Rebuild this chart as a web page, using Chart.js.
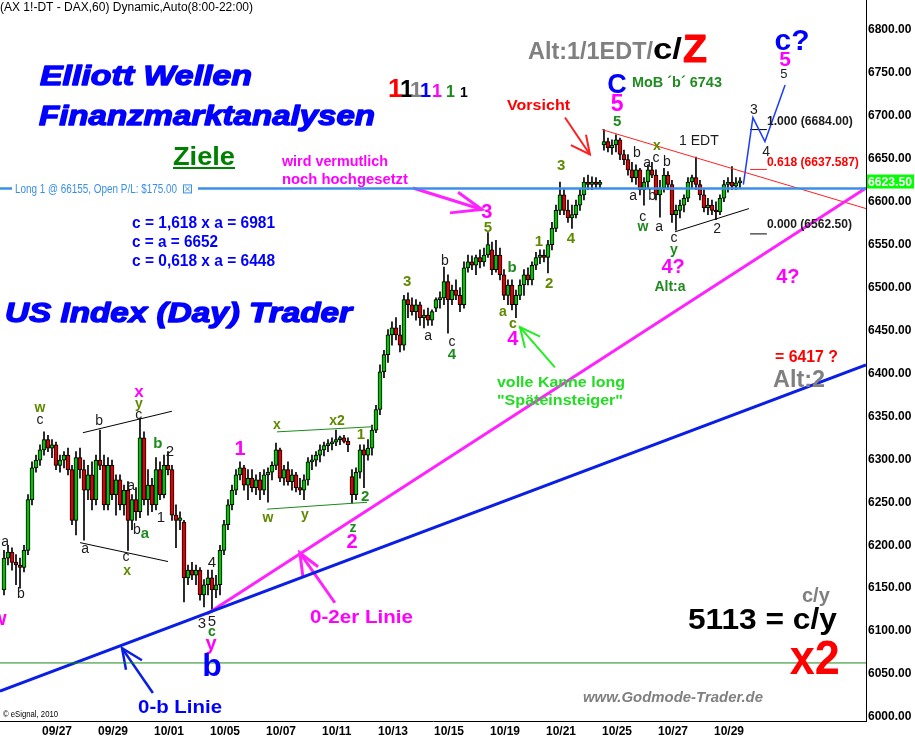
<!DOCTYPE html>
<html>
<head>
<meta charset="utf-8">
<script src="https://cdn.jsdelivr.net/npm/chart.js@4.4.0/dist/chart.umd.min.js"></script>
<style>
  html, body { margin: 0; padding: 0; background: #fff; }
</style>
</head>
<body>
<canvas id="kurs" width="915" height="740"></canvas>
<script>
// Handelstage im Bild (Stundenkerzen 8:00-22:00, hier als 2-Stunden-Kerzen)
const tage = ["09/23", "09/24", "09/27", "09/28", "09/29", "09/30", "10/01", "10/04", "10/05", "10/06",
  "10/07", "10/08", "10/11", "10/12", "10/13", "10/14", "10/15", "10/18", "10/19", "10/20",
  "10/21", "10/22", "10/25", "10/26", "10/27", "10/28", "10/29"];
const achsenTage = [2, 4, 6, 8, 10, 12, 14, 16, 18, 20, 22, 24, 26];
const preisTicks = [6000, 6050, 6100, 6150, 6200, 6250, 6300, 6350, 6400, 6450, 6500, 6550, 6600, 6650, 6700, 6750, 6800];
const ersterSlot = 4; // erste sichtbare Kerze am 09/23 nachmittags

const opens = [
  6148, 6185, 6192,
  6180, 6177, 6174, 6194, 6253, 6290, 6299,
  6311, 6323, 6313, 6317, 6293, 6299, 6305,
  6288, 6229, 6302, 6288, 6264, 6282, 6253,
  6299, 6293, 6247, 6293, 6259, 6276, 6247,
  6264, 6229, 6253, 6239, 6325, 6253, 6270,
  6247, 6288, 6259, 6293, 6288, 6235, 6229,
  6227, 6162, 6171, 6165, 6171, 6142, 6154,
  6162, 6148, 6154, 6194, 6224, 6247, 6264,
  6282, 6290, 6270, 6278, 6267, 6276, 6264,
  6282, 6285, 6293, 6311, 6278, 6288, 6274,
  6282, 6267, 6264, 6276, 6297, 6299, 6305,
  6311, 6316, 6318, 6320, 6323, 6325, 6321,
  6280, 6259, 6285, 6311, 6305, 6313, 6334,
  6358, 6402, 6422, 6445, 6453, 6445, 6433,
  6486, 6480, 6472, 6480, 6465, 6468, 6462,
  6476, 6486, 6488, 6507, 6486, 6497, 6491,
  6480, 6523, 6530, 6526, 6535, 6530, 6538,
  6544, 6521, 6538, 6515, 6491, 6503, 6480,
  6491, 6503, 6515, 6509, 6526, 6535, 6538,
  6535, 6550, 6569, 6590, 6608, 6590, 6581,
  6585, 6596, 6608, 6623, 6620, 6623, 6620,
  6666, 6670, 6663, 6666, 6672, 6655, 6649,
  6637, 6628, 6637, 6614, 6623, 6637, 6631,
  6608, 6616, 6631, 6620, 6585, 6590, 6596,
  6604, 6623, 6628, 6620, 6608, 6593, 6596,
  6590, 6588, 6604, 6620, 6623, 6618, 6622
];
const highs = [
  6194, 6200, 6197,
  6189, 6185, 6200, 6259, 6297, 6305, 6317,
  6332, 6328, 6323, 6320, 6305, 6309, 6313,
  6293, 6309, 6313, 6299, 6293, 6297, 6305,
  6334, 6305, 6302, 6299, 6282, 6282, 6270,
  6274, 6259, 6267, 6348, 6332, 6288, 6278,
  6302, 6297, 6305, 6309, 6293, 6247, 6239,
  6229, 6177, 6180, 6177, 6174, 6160, 6171,
  6171, 6165, 6200, 6229, 6253, 6270, 6288,
  6297, 6293, 6288, 6288, 6282, 6285, 6288,
  6290, 6297, 6319, 6313, 6293, 6297, 6288,
  6285, 6278, 6282, 6302, 6305, 6309, 6317,
  6320, 6323, 6325, 6334, 6327, 6328, 6325,
  6288, 6290, 6317, 6317, 6323, 6340, 6363,
  6410, 6427, 6451, 6460, 6465, 6456, 6491,
  6494, 6488, 6486, 6483, 6474, 6476, 6474,
  6488, 6495, 6524, 6515, 6503, 6509, 6500,
  6530, 6538, 6537, 6538, 6544, 6546, 6564,
  6553, 6555, 6546, 6521, 6509, 6509, 6497,
  6509, 6521, 6523, 6530, 6541, 6544, 6544,
  6555, 6576, 6596, 6623, 6614, 6602, 6596,
  6602, 6614, 6628, 6631, 6629, 6628, 6625,
  6684, 6674, 6672, 6678, 6674, 6660, 6655,
  6646, 6643, 6639, 6628, 6643, 6646, 6637,
  6625, 6639, 6635, 6625, 6596, 6602, 6608,
  6628, 6631, 6652, 6625, 6614, 6604, 6602,
  6600, 6608, 6625, 6628, 6641, 6628, 6628
];
const lows = [
  6142, 6177, 6171,
  6154, 6150, 6169, 6189, 6247, 6285, 6293,
  6305, 6309, 6302, 6288, 6285, 6290, 6282,
  6224, 6212, 6278, 6206, 6253, 6241, 6247,
  6288, 6241, 6241, 6253, 6235, 6241, 6235,
  6194, 6218, 6229, 6232, 6247, 6235, 6239,
  6241, 6253, 6255, 6282, 6229, 6197, 6218,
  6134, 6154, 6160, 6154, 6136, 6128, 6142,
  6122, 6139, 6142, 6189, 6218, 6241, 6259,
  6276, 6264, 6253, 6262, 6259, 6253, 6259,
  6250, 6276, 6288, 6274, 6270, 6270, 6264,
  6262, 6259, 6253, 6270, 6288, 6292, 6297,
  6304, 6309, 6311, 6316, 6317, 6319, 6309,
  6249, 6253, 6278, 6267, 6299, 6305, 6331,
  6352, 6395, 6413, 6433, 6439, 6425, 6427,
  6465, 6468, 6462, 6456, 6453, 6456, 6456,
  6472, 6476, 6480, 6447, 6480, 6486, 6472,
  6476, 6518, 6521, 6515, 6523, 6525, 6535,
  6515, 6518, 6509, 6486, 6480, 6474, 6465,
  6486, 6491, 6503, 6503, 6521, 6528, 6530,
  6517, 6544, 6565, 6585, 6585, 6576, 6569,
  6581, 6590, 6602, 6614, 6614, 6616, 6616,
  6660, 6658, 6655, 6658, 6649, 6643, 6631,
  6623, 6620, 6608, 6596, 6616, 6628, 6602,
  6582, 6611, 6614, 6576, 6567, 6581, 6588,
  6600, 6616, 6614, 6602, 6588, 6585, 6585,
  6579, 6585, 6600, 6611, 6614, 6614, 6616
];
const closes = [
  6185, 6192, 6180,
  6177, 6174, 6194, 6253, 6290, 6299, 6311,
  6323, 6313, 6317, 6293, 6299, 6305, 6288,
  6229, 6302, 6288, 6264, 6282, 6253, 6299,
  6293, 6247, 6293, 6259, 6276, 6247, 6264,
  6229, 6253, 6239, 6325, 6253, 6270, 6247,
  6288, 6259, 6293, 6288, 6235, 6229, 6232,
  6162, 6171, 6165, 6171, 6142, 6154, 6162,
  6148, 6154, 6194, 6224, 6247, 6264, 6282,
  6290, 6270, 6278, 6267, 6276, 6264, 6282,
  6285, 6293, 6311, 6278, 6288, 6274, 6282,
  6267, 6264, 6276, 6297, 6299, 6305, 6311,
  6316, 6318, 6320, 6323, 6325, 6321, 6317,
  6259, 6285, 6311, 6305, 6313, 6334, 6358,
  6402, 6422, 6445, 6453, 6445, 6433, 6486,
  6480, 6472, 6480, 6465, 6468, 6462, 6472,
  6486, 6488, 6507, 6486, 6497, 6491, 6480,
  6523, 6530, 6526, 6535, 6530, 6538, 6550,
  6521, 6538, 6515, 6491, 6503, 6480, 6491,
  6503, 6515, 6509, 6526, 6535, 6538, 6535,
  6550, 6569, 6590, 6608, 6590, 6581, 6585,
  6596, 6608, 6623, 6620, 6623, 6620, 6623,
  6670, 6663, 6666, 6672, 6655, 6649, 6637,
  6628, 6637, 6614, 6623, 6637, 6631, 6608,
  6616, 6631, 6620, 6585, 6590, 6596, 6604,
  6623, 6628, 6620, 6608, 6593, 6596, 6590,
  6588, 6604, 6620, 6623, 6618, 6622, 6623.5
];
const letzterKurs = 6623.5;
const longEinstieg = 6615.5;
const fibLevels = [6684, 6637.587, 6562.5];

// eingezeichnete Linien (Tag, Kurs)
const linieNullB = [[0.5, 6030], [31.43, 6410]];
const linieNullZwei = [[7.89, 6120], [31.43, 6616]];
const dreieckOben = [[22.0, 6684], [31.43, 6592]];
const dreieckUnten = [[24.61, 6565], [27.25, 6592]];
const kanalOben = [[3.46, 6331], [6.64, 6356]];
const kanalUnten = [[3.36, 6203], [6.5, 6181]];
const gruenOben = [[10.39, 6332], [13.82, 6338]];
const gruenUnten = [[10.04, 6242], [13.61, 6250]];
const prognose = [[27.05, 6620], [27.39, 6698], [27.82, 6670], [28.54, 6736]];
const pfeile = {
  vorsicht: [[[20.68, 6698], [21.57, 6655]], [[20.89, 6666], [21.57, 6655], [21.43, 6678]]],
  hoch: [[[15.25, 6616], [17.71, 6591]], [[16.86, 6611], [17.71, 6591], [16.57, 6587]]],
  kanne: [[[20.32, 6407], [19.07, 6454]], [[19.79, 6443], [19.07, 6454], [19.25, 6430]]],
  nullZwei: [[[12.46, 6133], [11.21, 6191]], [[11.86, 6175], [11.21, 6191], [11.32, 6163]]],
  nullB: [[[5.96, 6028], [4.86, 6080]], [[5.57, 6066], [4.86, 6080], [5.0, 6055]]]
};

const SW = "#1c1c1c", OL = "#5f8a00", GR = "#1d8a1d", MA = "#ff00ff", BL = "#0000ff", RT = "#ff0000", GRAU = "#808080";
const FONT = '"Liberation Sans", Arial, sans-serif';

// Wellenzaehlung: Text, Tag, Kurs, Farbe, Groesse, fett
const wellen = [
  ["a", 0.68, 6204, SW, 14, 0], ["b", 1.25, 6143, SW, 14, 0], ["w", 1.93, 6360, OL, 14, 1], ["c", 1.93, 6346, SW, 14, 0],
  ["b", 4.04, 6344, SW, 14, 0], ["a", 3.54, 6196, SW, 14, 0], ["x", 5.46, 6378, MA, 17, 1], ["y", 5.46, 6364, OL, 14, 1],
  ["c", 5.46, 6351, SW, 14, 0], ["a", 5.18, 6269, SW, 14, 0], ["b", 5.39, 6218, SW, 14, 0], ["a", 5.68, 6213, GR, 15, 1],
  ["b", 6.14, 6318, GR, 15, 1], ["2", 6.57, 6309, SW, 15, 0], ["1", 6.25, 6232, SW, 15, 0], ["c", 5.0, 6186, SW, 14, 0],
  ["x", 5.04, 6170, OL, 14, 1], ["3", 7.71, 6108, SW, 15, 0], ["5", 8.07, 6111, SW, 15, 0], ["c", 8.07, 6099, GR, 14, 1],
  ["y", 8.04, 6084, MA, 20, 1], ["b", 8.07, 6058, BL, 32, 1], ["4", 8.07, 6179, SW, 15, 0], ["1", 9.07, 6311, MA, 20, 1],
  ["x", 10.39, 6340, OL, 14, 1], ["w", 10.07, 6232, OL, 14, 1], ["y", 11.39, 6235, OL, 14, 1], ["x2", 12.54, 6344, OL, 14, 1],
  ["1", 13.39, 6328, OL, 15, 1], ["2", 13.54, 6256, GR, 15, 1], ["z", 13.11, 6220, GR, 14, 1], ["2", 13.07, 6203, MA, 20, 1],
  ["3", 15.04, 6507, OL, 15, 1], ["a", 15.79, 6443, SW, 14, 0], ["b", 16.39, 6531, SW, 14, 0], ["c", 16.64, 6437, SW, 14, 0],
  ["4", 16.64, 6422, GR, 15, 1], ["5", 17.93, 6570, OL, 15, 1], ["3", 17.89, 6587, MA, 20, 1], ["a", 18.46, 6471, OL, 14, 1],
  ["b", 18.79, 6523, GR, 15, 1], ["c", 18.82, 6457, OL, 14, 1], ["4", 18.82, 6439, MA, 20, 1], ["1", 19.75, 6553, OL, 15, 1],
  ["2", 20.11, 6504, OL, 15, 1], ["3", 20.54, 6642, OL, 15, 1], ["4", 20.89, 6557, OL, 15, 1],
  ["b", 23.25, 6657, SW, 14, 0], ["a", 23.11, 6607, SW, 14, 0], ["a", 23.61, 6645, SW, 14, 0], ["c", 23.93, 6651, SW, 14, 0],
  ["x", 23.96, 6665, OL, 14, 1], ["b", 24.32, 6646, SW, 14, 0], ["c", 23.46, 6582, SW, 14, 0], ["w", 23.46, 6570, GR, 14, 1],
  ["b", 23.79, 6607, SW, 14, 0], ["a", 24.04, 6570, SW, 14, 0], ["c", 24.57, 6558, SW, 14, 0], ["y", 24.57, 6544, GR, 14, 1],
  ["2", 26.11, 6568, SW, 14, 0], ["1 EDT", 25.46, 6670, SW, 14, 0],
  ["5", 22.54, 6693, GR, 15, 1], ["5", 22.54, 6713, MA, 23, 1], ["C", 22.54, 6735, BL, 27, 1],
  ["3", 27.43, 6707, SW, 14, 0], ["4", 27.86, 6658, SW, 14, 0], ["5", 28.5, 6748, SW, 13, 0],
  ["5", 28.54, 6765, MA, 21, 1], ["c?", 28.79, 6786, BL, 30, 1],
  ["4?", 24.54, 6523, MA, 20, 1], ["Alt:a", 24.43, 6501, GR, 14, 1], ["4?", 28.64, 6512, MA, 20, 1],
  ["c/y", 29.64, 6140, GRAU, 20, 1], ["w", 0.46, 6113, MA, 20, 1]
];
// Kommentare links ausgerichtet: Text, Tag, Kurs, Farbe, Schrift, Breite
const kommentare = [
  ["Vorsicht", 18.61, 6712, RT, "bold 15px", 63],
  ["MoB \u00B4b\u00B4 6743", 23.07, 6738, "#218c21", "bold 15px", 90],
  ["1.000 (6684.00)", 27.89, 6693, SW, "bold 12px", 86],
  ["0.618 (6637.587)", 27.89, 6646, RT, "bold 12px", 92],
  ["0.000 (6562.50)", 27.89, 6573, SW, "bold 12px", 85],
  ["= 6417 ?", 28.18, 6418, RT, "bold 16px", 63],
  ["Alt:2", 28.11, 6392, GRAU, "bold 24px", 52],
  ["5113 = c/y", 25.07, 6112, "#000", "bold 30px", 149],
  ["x2", 28.71, 6066, RT, "bold 48px", 50],
  ["0-b Linie", 5.43, 6010, BL, "bold 18px", 84],
  ["0-2er Linie", 11.57, 6115, MA, "bold 18px", 103],
  ["volle Kanne long", 18.25, 6389, "#22dd22", "bold 15px", 128],
  ["\"Sp\u00E4teinsteiger\"", 18.25, 6368, "#22dd22", "bold 15px", 126],
  ["wird vermutlich", 10.57, 6646, MA, "bold 14px", 106],
  ["noch hochgesetzt", 10.57, 6625, MA, "bold 14px", 126]
];

const kerzenX = opens.map((o, i) => {
  const slot = i + ersterSlot;
  return Math.floor(slot / 7) + (2 * (slot % 7) + 1) / 14;
});
console.log("Kerzen:", opens.length);

function linie(punkte, farbe, breite) {
  return {
    type: "line",
    data: punkte.map(([x, y]) => ({ x: x, y: y })),
    borderColor: farbe,
    borderWidth: breite,
    pointRadius: 0,
    fill: false,
    tension: 0,
    order: 1
  };
}

const datasets = [
  {
    type: "bar",
    data: opens.map((o, i) => ({ x: kerzenX[i], y: [lows[i], highs[i]] })),
    backgroundColor: "#000",
    barThickness: 1,
    grouped: false,
    order: 11
  },
  {
    type: "bar",
    data: opens.map((o, i) => ({ x: kerzenX[i], y: [o, closes[i]] })),
    backgroundColor: opens.map((o, i) => (closes[i] >= o ? "#00c400" : "#e00000")),
    borderColor: "#000",
    borderWidth: 1,
    borderSkipped: false,
    barThickness: 4,
    minBarLength: 2,
    grouped: false,
    order: 10
  },
  linie([[0.5, longEinstieg], [31.43, longEinstieg]], "#3a8fe8", 2.5),
  linie([[0.5, 6062.9], [31.43, 6062.9]], "#1a8a1a", 1),
  linie(linieNullB, "#0a1ee6", 3),
  linie(linieNullZwei, "#ff22ff", 3),
  linie(dreieckOben, "#ff2020", 1),
  linie(dreieckUnten, "#000", 1),
  linie(kanalOben, "#000", 1),
  linie(kanalUnten, "#000", 1),
  linie(gruenOben, "#1a8a1a", 1),
  linie(gruenUnten, "#1a8a1a", 1),
  linie(prognose, "#1a3cff", 1.5)
];
fibLevels.forEach((lv, i) => {
  datasets.push(linie([[27.29, lv], [27.89, lv]], i === 1 ? "#ff2020" : "#000", 1));
});
const pfeilFarben = { vorsicht: ["#ff2020", 2], hoch: ["#ff22ff", 3], kanne: ["#22ee22", 2], nullZwei: ["#ff22ff", 3], nullB: ["#0a1ee6", 2.5] };
Object.keys(pfeile).forEach((k) => {
  pfeile[k].forEach((teil) => datasets.push(linie(teil, pfeilFarben[k][0], pfeilFarben[k][1])));
});

function schreibe(ctx, text, x, y, font, farbe, breite, dick) {
  ctx.font = font + " " + FONT;
  ctx.fillStyle = farbe;
  const w = ctx.measureText(text).width;
  ctx.save();
  ctx.translate(x, y);
  if (breite) ctx.scale(breite / w, 1);
  ctx.fillText(text, 0, 0);
  if (dick) {
    ctx.strokeStyle = farbe;
    ctx.lineWidth = dick;
    ctx.lineJoin = "round";
    ctx.strokeText(text, 0, 0);
  }
  ctx.restore();
}

const beschriftung = {
  id: "beschriftung",
  afterDraw(chart) {
    const { ctx, scales: { x, y } } = chart;
    ctx.save();
    ctx.textAlign = "left";
    ctx.textBaseline = "alphabetic";

    schreibe(ctx, "(AX 1!-DT - DAX,60) Dynamic,Auto(8:00-22:00)", 0, 11, "12px", "#000", 253);
    schreibe(ctx, "Elliott Wellen", 40, 85, "bold italic 28px", BL, 212, 1.4);
    schreibe(ctx, "Finanzmarktanalysen", 39, 125, "bold italic 28px", BL, 336, 1.4);
    schreibe(ctx, "US Index (Day) Trader", 5, 322, "bold italic 28px", BL, 347, 1.4);
    schreibe(ctx, "Ziele", 173, 165, "bold 26px", "#008000", 62);
    ctx.fillStyle = "#008000";
    ctx.fillRect(173, 167, 62, 2);
    schreibe(ctx, "c = 1,618 x a = 6981", 132, 228, "bold 16px", BL, 143);
    schreibe(ctx, "c = a = 6652", 132, 247, "bold 16px", BL, 86);
    schreibe(ctx, "c = 0,618 x a = 6448", 132, 266, "bold 16px", BL, 143);

    // Einser-Reihe
    const einser = [["#ff0000", 26, 388], ["#000", 24, 400], ["#808080", 22, 410], ["#0000ff", 20, 420], ["#ff00ff", 18, 432], ["#1d8a1d", 16, 446], ["#000", 14, 460]];
    einser.forEach(([f, s, px]) => schreibe(ctx, "1", px, 97, "bold " + s + "px", f));

    schreibe(ctx, "Alt:1/1EDT/", 528, 59, "bold 24px", GRAU, 125);
    schreibe(ctx, "c/", 653, 59, "bold 30px", "#000", 29);
    schreibe(ctx, "Z", 683, 62, "bold 38px", RT, 24, 1);
    schreibe(ctx, "www.Godmode-Trader.de", 583, 702, "bold italic 14px", GRAU, 180);
    schreibe(ctx, "\u00A9 eSignal, 2010", 3, 717, "9px", "#000", 55);

    // Positionszeile
    const yl = y.getPixelForValue(longEinstieg);
    ctx.fillStyle = "#fff";
    ctx.fillRect(12, yl - 7, 186, 14);
    ctx.textBaseline = "middle";
    schreibe(ctx, "Long 1 @ 66155, Open P/L: $175.00", 15, yl + 1, "12px", "#3a8fe8", 162);
    ctx.strokeStyle = "#3a8fe8";
    ctx.lineWidth = 1;
    ctx.strokeRect(183.5, yl - 3.5, 8, 8);
    ctx.beginPath();
    ctx.moveTo(185, yl - 2); ctx.lineTo(190, yl + 3);
    ctx.moveTo(190, yl - 2); ctx.lineTo(185, yl + 3);
    ctx.stroke();

    // Wellenzaehlung
    ctx.textAlign = "center";
    wellen.forEach(([t, d, p, f, s, b]) => {
      ctx.font = (b ? "bold " : "") + s + "px " + FONT;
      ctx.fillStyle = f;
      ctx.fillText(t, x.getPixelForValue(d), y.getPixelForValue(p));
    });
    ctx.textAlign = "left";
    kommentare.forEach(([t, d, p, f, font, w]) => {
      schreibe(ctx, t, x.getPixelForValue(d), y.getPixelForValue(p), font, f, w);
    });

    // letzter Kurs
    const yk = y.getPixelForValue(letzterKurs);
    ctx.fillStyle = "#00ff00";
    ctx.fillRect(867, yk - 7, 47, 14);
    schreibe(ctx, letzterKurs.toFixed(2), 868, yk + 1, "bold 12px", "#fff", 44);
    ctx.restore();
  }
};

new Chart(document.getElementById("kurs"), {
  type: "bar",
  data: { datasets: datasets },
  options: {
    responsive: false,
    animation: false,
    devicePixelRatio: 1,
    events: [],
    layout: { padding: 0 },
    plugins: { legend: { display: false }, tooltip: { enabled: false } },
    scales: {
      x: {
        type: "linear",
        position: "bottom",
        min: 0.5,
        max: 31.43,
        offset: false,
        grid: { display: false, drawTicks: false },
        border: { display: true, color: "#000", width: 1 },
        ticks: {
          autoSkip: false,
          maxRotation: 0,
          align: "start",
          padding: 3,
          color: "#000",
          font: { family: FONT, size: 12, weight: "bold" },
          callback: (v) => tage[v] || ""
        },
        afterBuildTicks: (s) => { s.ticks = achsenTage.map((v) => ({ value: v })); },
        afterFit: (s) => { s.height = 19; s.paddingLeft = 0; s.paddingRight = 0; }
      },
      y: {
        type: "linear",
        position: "right",
        min: 5995.3,
        max: 6834.9,
        grid: { display: false, drawTicks: false },
        border: { display: true, color: "#000", width: 1 },
        ticks: {
          autoSkip: false,
          padding: 2,
          color: "#000",
          font: { family: FONT, size: 12, weight: "bold" },
          callback: (v) => Number(v).toFixed(2)
        },
        afterBuildTicks: (s) => { s.ticks = preisTicks.map((v) => ({ value: v })); },
        afterFit: (s) => { s.width = 49; s.paddingTop = 0; s.paddingBottom = 0; }
      }
    }
  },
  plugins: [beschriftung]
});
</script>
</body>
</html>
